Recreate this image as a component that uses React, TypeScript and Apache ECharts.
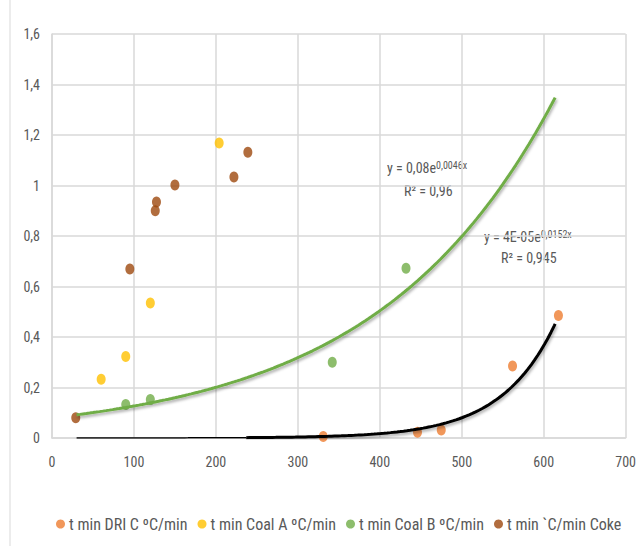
import React, { useEffect, useRef } from "react";
import * as echarts from "echarts";

const seriesNames = [
  "t min DRI C ºC/min",
  "t min Coal A ºC/min",
  "t min Coal B ºC/min",
  "t min `C/min Coke",
];
const seriesColors = ["#ED7D31", "#FFC000", "#70AD47", "#9E480E"];

const driC: [number, number][] = [
  [331, 0.006],
  [446, 0.023],
  [475, 0.032],
  [562, 0.285],
  [618, 0.485],
];
const coalA: [number, number][] = [
  [60, 0.233],
  [90, 0.323],
  [120, 0.535],
  [204, 1.168],
];
const coalB: [number, number][] = [
  [90, 0.133],
  [120, 0.152],
  [342, 0.3],
  [432, 0.672],
];
const coke: [number, number][] = [
  [29, 0.08],
  [95, 0.669],
  [126, 0.9],
  [127.5, 0.935],
  [150, 1.002],
  [222, 1.034],
  [239, 1.132],
];

// Trendline equations as printed on the chart
const greenTrend = { a: 0.08, b: 0.0046, from: 30, to: 614 };
const blackTrend = { a: 4e-5, b: 0.0152, from: 30, split: 237, to: 614 };

const xTicks = { min: 0, max: 700, interval: 100 };
const yTicks = { min: 0, max: 1.6, interval: 0.2 };

function trendPoints(a: number, b: number, from: number, to: number) {
  const pts: [number, number][] = [];
  for (let x = from; x < to; x += 4) pts.push([x, a * Math.exp(b * x)]);
  pts.push([to, a * Math.exp(b * to)]);
  return pts;
}

const FONT = "'Roboto Condensed', 'Liberation Sans Narrow', sans-serif";
const TXT = "#595959";

function eqText(x: number, y: number, main: string, sup: string) {
  return {
    type: "text",
    x,
    y,
    style: {
      text: main + "{sup|" + sup + "}",
      fill: TXT,
      fontSize: 14,
      lineHeight: 16,
      fontFamily: FONT,
      verticalAlign: "middle",
      rich: {
        sup: { fontSize: 10, lineHeight: 16, verticalAlign: "top", fill: TXT, fontFamily: FONT },
      },
    },
  };
}

export default function App() {
  const ref = useRef<HTMLDivElement>(null);
  useEffect(() => {
    if (!ref.current) return;
    const chart = echarts.init(ref.current, undefined, { renderer: "svg" });
    const shadow = {
      shadowColor: "rgba(0,0,0,0.35)",
      shadowBlur: 3,
      shadowOffsetX: 1,
      shadowOffsetY: 2,
    };
    const scatterData = [driC, coalA, coalB, coke];
    chart.setOption({
      animation: false,
      backgroundColor: "#ffffff",
      textStyle: { fontFamily: FONT },
      grid: { left: 52, right: 9, top: 34, bottom: 108 },
      xAxis: {
        type: "value",
        min: xTicks.min,
        max: xTicks.max,
        interval: xTicks.interval,
        axisLine: { show: true, lineStyle: { color: "#d9d9d9", width: 1.5 } },
        axisTick: { show: false },
        splitLine: { show: true, lineStyle: { color: "#d9d9d9", width: 1.5 } },
        axisLabel: { color: TXT, fontSize: 14, margin: 17, fontFamily: FONT },
      },
      yAxis: {
        type: "value",
        min: yTicks.min,
        max: yTicks.max,
        interval: yTicks.interval,
        axisLine: { show: true, lineStyle: { color: "#d9d9d9", width: 1.5 } },
        axisTick: { show: false },
        splitLine: { show: true, lineStyle: { color: "#d9d9d9", width: 1.5 } },
        axisLabel: {
          color: TXT,
          fontSize: 14,
          margin: 12,
          fontFamily: FONT,
          formatter: (v: number) => String(Math.round(v * 10) / 10).replace(".", ","),
        },
      },
      legend: {
        data: seriesNames,
        left: 51,
        top: 511,
        icon: "circle",
        itemWidth: 9,
        itemHeight: 9,
        itemGap: 10,
        textStyle: { color: TXT, fontSize: 16, fontFamily: FONT, padding: [0, 0, 0, -1] },
      },
      graphic: [
        { type: "line", shape: { x1: 10, y1: 0, x2: 10, y2: 546 }, style: { stroke: "#d9d9d9", lineWidth: 1 } },
        eqText(387, 168, "y = 0,08e", "0,0046x"),
        { type: "text", x: 404, y: 191, style: { text: "R² = 0,96", fill: TXT, fontSize: 14, fontFamily: FONT, verticalAlign: "middle" } },
        eqText(484, 237, "y = 4E-05e", "0,0152x"),
        { type: "text", x: 501, y: 258, style: { text: "R² = 0,945", fill: TXT, fontSize: 14, fontFamily: FONT, verticalAlign: "middle" } },
      ],
      series: [
        ...seriesNames.map((name, i) => ({
          name,
          type: "scatter",
          data: scatterData[i],
          symbol: "circle",
          symbolSize: [9, 11],
          itemStyle: { color: seriesColors[i] },
          z: 2,
        })),
        {
          type: "line",
          data: trendPoints(greenTrend.a, greenTrend.b, greenTrend.from, greenTrend.to),
          showSymbol: false,
          symbol: "none",
          lineStyle: { color: "#70AD47", width: 3, ...shadow },
          z: 5,
          silent: true,
        },
        {
          type: "line",
          data: trendPoints(blackTrend.a, blackTrend.b, blackTrend.from, blackTrend.split),
          showSymbol: false,
          symbol: "none",
          lineStyle: { color: "#000000", width: 1.5 },
          z: 5,
          silent: true,
        },
        {
          type: "line",
          data: trendPoints(blackTrend.a, blackTrend.b, blackTrend.split, blackTrend.to),
          showSymbol: false,
          symbol: "none",
          lineStyle: { color: "#000000", width: 3, ...shadow },
          z: 5,
          silent: true,
        },
      ],
    });
    return () => chart.dispose();
  }, []);
  return (
    <div
      ref={ref}
      style={{ position: "absolute", left: 0, top: 0, width: 639, height: 546 }}
    />
  );
}
